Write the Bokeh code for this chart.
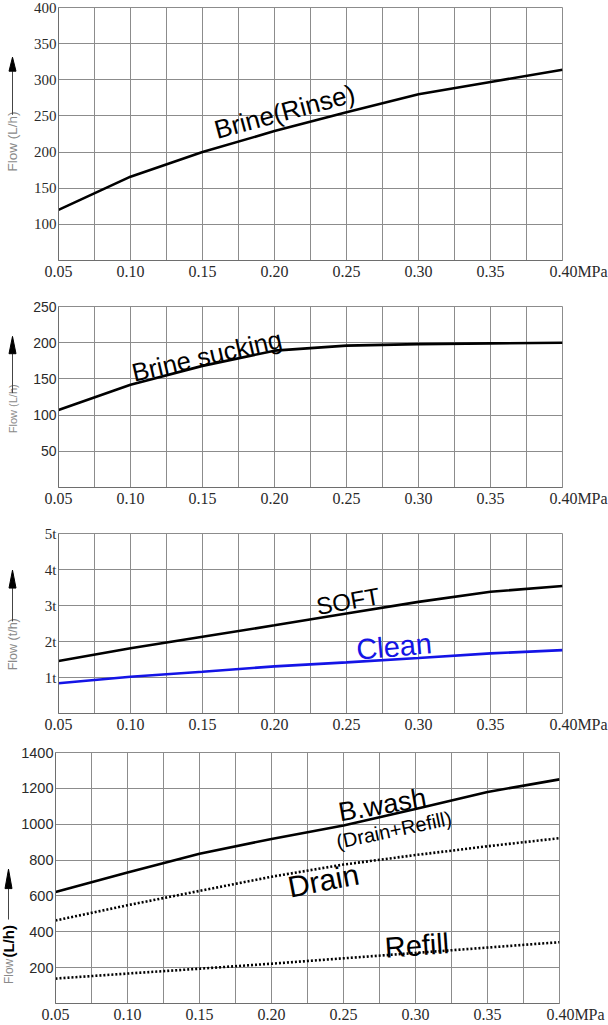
from bokeh.plotting import figure
from bokeh.models import Range1d, FixedTicker, ColumnDataSource
from bokeh.layouts import column, row
from bokeh.embed import file_html
from bokeh.resources import INLINE
from bokeh.core.properties import value

# ---------------- data ----------------
pressure = [0.05, 0.10, 0.15, 0.20, 0.25, 0.30, 0.35, 0.40]
x_tick_labels = ["0.05", "0.10", "0.15", "0.20", "0.25", "0.30", "0.35", "0.40"]
x_unit = "MPa"

brine_rinse = [120, 166, 200, 229, 255, 280, 297, 314]
brine_sucking = [107, 142, 168, 189, 196, 198, 199, 200]
soft = [1.46, 1.81, 2.13, 2.45, 2.78, 3.10, 3.38, 3.54]
clean = [0.84, 1.02, 1.16, 1.31, 1.42, 1.54, 1.67, 1.76]
bwash = [622, 731, 835, 918, 993, 1085, 1180, 1250]
drain = [463, 548, 628, 707, 775, 828, 877, 922]
refill = [139, 167, 194, 222, 252, 282, 312, 342]

p1_yticks = [100, 150, 200, 250, 300, 350, 400]
p1_ylabels = ["100", "150", "200", "250", "300", "350", "400"]
p2_yticks = [50, 100, 150, 200, 250]
p2_ylabels = ["50", "100", "150", "200", "250"]
p3_yticks = [1, 2, 3, 4, 5]
p3_ylabels = ["1t", "2t", "3t", "4t", "5t"]
p4_yticks = [200, 400, 600, 800, 1000, 1200, 1400]
p4_ylabels = ["200", "400", "600", "800", "1000", "1200", "1400"]

p1_names = ["Brine(Rinse)"]
p2_names = ["Brine sucking"]
p3_names = ["SOFT", "Clean"]
p4_names = ["B.wash", "(Drain+Refill)", "Drain", "Refill"]

GRID = "#8c8c8c"
AXIS = "#6e6e6e"
TICKTXT = "#2a2a2a"
BLUE = "#1414e6"
FRAME_W = 504
PAGE_W = 608


def make_panel(width, height, top, bottom, left, ymin, ymax, yticks, ylabels,
               yfont, yfont_size):
    p = figure(width=width, height=height,
               x_range=Range1d(pressure[0], pressure[-1]),
               y_range=Range1d(ymin, ymax),
               output_backend="svg", toolbar_location=None,
               min_border_top=top, min_border_bottom=bottom,
               min_border_left=left, min_border_right=width - left - FRAME_W)
    p.background_fill_color = "white"
    p.border_fill_color = "white"
    p.outline_line_color = GRID
    p.outline_line_width = 1

    mids = [(a + b) / 2 for a, b in zip(pressure[:-1], pressure[1:])]
    p.xaxis.ticker = FixedTicker(ticks=pressure, minor_ticks=mids)
    xl = dict(zip(pressure, x_tick_labels))
    # last label carries the unit; figure-space padding keeps the number on its tick
    xl[pressure[-1]] = "\u2007\u2007\u2007\u2007" + x_tick_labels[-1] + x_unit
    p.xaxis.major_label_overrides = xl
    p.yaxis.ticker = FixedTicker(ticks=yticks)
    p.yaxis.major_label_overrides = dict(zip(yticks, ylabels))

    for ax in (p.xaxis, p.yaxis):
        ax.major_tick_out = 0
        ax.major_tick_in = 0
        ax.minor_tick_out = 0
        ax.minor_tick_in = 0
        ax.axis_line_color = AXIS
        ax.major_label_text_color = TICKTXT

    p.xaxis.major_label_standoff = 2
    p.xaxis.major_label_text_font = "Liberation Serif"
    p.xaxis.major_label_text_font_size = "16px"
    p.yaxis.major_label_standoff = 2
    p.yaxis.major_label_text_font = yfont
    p.yaxis.major_label_text_font_size = yfont_size

    p.xgrid.grid_line_color = GRID
    p.xgrid.grid_line_alpha = 1
    p.xgrid.minor_grid_line_color = GRID
    p.xgrid.minor_grid_line_alpha = 1
    p.ygrid.grid_line_color = GRID
    p.ygrid.grid_line_alpha = 1
    return p


def make_strip(width, height):
    s = figure(width=width, height=height, x_range=Range1d(0, width),
               y_range=Range1d(0, height), output_backend="svg",
               toolbar_location=None, x_axis_type=None, y_axis_type=None,
               min_border=0)
    s.outline_line_color = None
    s.background_fill_color = "white"
    s.border_fill_color = "white"
    return s


def strip_arrow(s, x, y_line0, y_base, y_tip):
    s.segment(x0=[x], y0=[y_line0], x1=[x], y1=[y_base],
              line_color="#444444", line_width=1)
    s.patch(x=[x - 3.5, x + 3.5, x], y=[y_base, y_base, y_tip],
            fill_color="black", line_color="black", line_width=1)


def strip_text(s, text, x, y, size, color="#8a8a8a", style="normal"):
    s.text(x=[x], y=[y], text=[text], angle=90, angle_units="deg",
           text_align="left", text_baseline="middle",
           text_font=value("Liberation Sans"), text_font_size=size,
           text_color=color, text_font_style=style)


def curve_labels(p, names, xs, ys, angles, sizes, colors):
    src = ColumnDataSource(dict(x=xs, y=ys, text=names, angle=angles,
                                size=sizes, color=colors))
    p.text(x="x", y="y", text="text", angle="angle", angle_units="deg",
           text_font=value("Liberation Sans"), text_font_size="size",
           text_color="color", text_align="center", text_baseline="middle",
           source=src)


# ---------------- panel 1 ----------------
S1 = 24
p1 = make_panel(PAGE_W - S1, 290, 7, 30, 58 - S1, 50, 400, p1_yticks,
                p1_ylabels, "Liberation Serif", "15px")
p1.line(pressure, brine_rinse, line_color="black", line_width=2.6)
curve_labels(p1, p1_names, [0.207], [256], [15], ["26px"], ["black"])
s1 = make_strip(S1, 290)
strip_text(s1, "Flow (L/h)", 12, 102, "13.5px")
strip_arrow(s1, 12, 167, 217, 233)

# ---------------- panel 2 ----------------
p2 = make_panel(PAGE_W - S1, 230, 16, 33, 58 - S1, 0, 250, p2_yticks,
                p2_ylabels, "Liberation Sans", "14px")
p2.line(pressure, brine_sucking, line_color="black", line_width=2.6)
curve_labels(p2, p2_names, [0.153], [182], [13], ["25.5px"], ["black"])
s2 = make_strip(S1, 230)
strip_text(s2, "Flow (L/h)", 12, 69, "11px")
strip_arrow(s2, 12, 120, 170, 192)

# ---------------- panel 3 ----------------
p3 = make_panel(PAGE_W - S1, 221, 13, 28, 58 - S1, 0, 5, p3_yticks,
                p3_ylabels, "Liberation Serif", "15px")
p3.line(pressure, soft, line_color="black", line_width=2.6)
p3.line(pressure, clean, line_color=BLUE, line_width=2.6)
curve_labels(p3, p3_names, [0.251, 0.283], [3.12, 1.86], [10, 5],
             ["24px", "29px"], ["black", BLUE])
s3 = make_strip(S1, 221)
strip_text(s3, "Flow (t/h)", 12, 53, "12.5px")
strip_arrow(s3, 12, 113, 154, 176)

# ---------------- panel 4 ----------------
S4 = 18
p4 = make_panel(PAGE_W - S4, 284, 11, 21, 55 - S4, 0, 1400, p4_yticks,
                p4_ylabels, "Liberation Sans", "14.5px")
p4.line(pressure, bwash, line_color="black", line_width=2.6)
p4.line(pressure, drain, line_color="black", line_width=2.6, line_dash="2 2")
p4.line(pressure, refill, line_color="black", line_width=2.6, line_dash="2 2")
curve_labels(p4, p4_names, [0.277, 0.285, 0.236, 0.301],
             [1107, 968, 686, 324], [10, 12, 11, 4],
             ["27px", "20px", "30px", "29px"],
             ["black", "black", "black", "black"])
s4 = make_strip(S4, 284)
strip_text(s4, "Flow", 8, 22, "12px")
strip_text(s4, "(L/h)", 8, 52, "15px", color="black", style="bold")
strip_arrow(s4, 8, 95, 130, 152)

layout = column(row(s1, p1), row(s2, p2), row(s3, p3), row(s4, p4))
open("out.html", "w").write(file_html(layout, INLINE))
